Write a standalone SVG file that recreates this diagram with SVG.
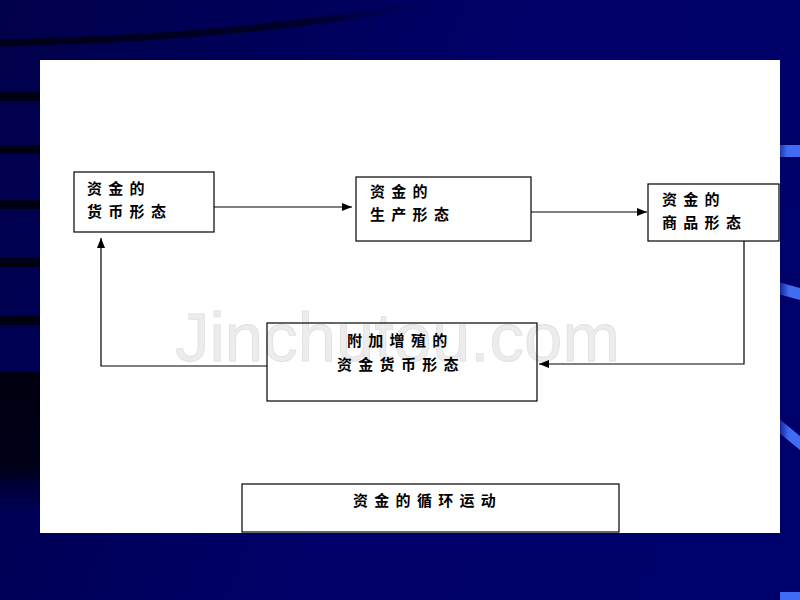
<svg xmlns="http://www.w3.org/2000/svg" width="800" height="600" viewBox="0 0 800 600">
<defs>
<style>
.box{fill:none;stroke:#000;stroke-width:1.2}
.t{font-family:"Noto Sans CJK SC","Noto Sans CJK JP",sans-serif;font-size:15px;font-weight:700;letter-spacing:6.3px;fill:#000}
.c{fill:none;stroke:#000;stroke-width:1.2}
.stripeL{fill:#000014}
</style>
<linearGradient id="bg" x1="0" y1="0" x2="1" y2="0.3">
<stop offset="0" stop-color="#00004a"/>
<stop offset="0.6" stop-color="#000068"/>
<stop offset="1" stop-color="#00006a"/>
</linearGradient>
<linearGradient id="blk" x1="0" y1="0" x2="0" y2="1">
<stop offset="0" stop-color="#000010"/>
<stop offset="0.6" stop-color="#000018"/>
<stop offset="1" stop-color="#000060" stop-opacity="0"/>
</linearGradient>
<linearGradient id="band" x1="0" y1="0" x2="1" y2="0">
<stop offset="0" stop-color="#000010"/>
<stop offset="0.7" stop-color="#000020"/>
<stop offset="1" stop-color="#000040" stop-opacity="0"/>
</linearGradient>
<linearGradient id="fadeR" x1="0" y1="0" x2="1" y2="0">
<stop offset="0" stop-color="#3f6cf2" stop-opacity="0.2"/>
<stop offset="0.5" stop-color="#3f6cf2"/>
<stop offset="1" stop-color="#3f6cf2"/>
</linearGradient>
<marker id="ah" viewBox="0 0 10 10" refX="10" refY="5" markerWidth="10" markerHeight="10" markerUnits="userSpaceOnUse" orient="auto">
<path d="M0,1 L10,5 L0,9 Z" fill="#000"/>
</marker>
</defs>

<g id="background">
<rect x="0" y="0" width="800" height="600" fill="url(#bg)"/>
<path d="M0,43 C120,40 260,33 430,4" fill="none" stroke="url(#band)" stroke-width="7" opacity="0.85"/>
<rect class="stripeL" x="0" y="92" width="40" height="9"/>
<rect class="stripeL" x="0" y="145" width="40" height="9"/>
<rect class="stripeL" x="0" y="200" width="40" height="9"/>
<rect class="stripeL" x="0" y="258" width="40" height="9"/>
<rect class="stripeL" x="0" y="316" width="40" height="9"/>
<rect x="0" y="372" width="40" height="160" fill="url(#blk)"/>
<rect x="775" y="145" width="25" height="12" fill="url(#fadeR)"/>
<path d="M778,282 L800,288 L800,300 L778,294 Z" fill="url(#fadeR)"/>
<path d="M778,418 L800,436 L800,450 L778,432 Z" fill="url(#fadeR)"/>
<rect x="780" y="592" width="20" height="8" fill="#3f6cf2"/>
<rect x="40" y="60" width="740" height="473" fill="#fff"/>
<text x="175" y="361" font-family="Liberation Sans, Arial, sans-serif" font-size="69" fill="#ececec" stroke="#e0e0e0" stroke-width="0.8">Jinchutou.com</text>
</g>

<g id="connectors">
<path class="c" d="M214,207 H352" marker-end="url(#ah)"/>
<path class="c" d="M531,212 H647" marker-end="url(#ah)"/>
<path class="c" d="M744,241 V364 H539" marker-end="url(#ah)"/>
<path class="c" d="M267,366 H101 V238" marker-end="url(#ah)"/>
</g>

<g id="node-money">
<rect class="box" x="74" y="172" width="140" height="60"/>
<text class="t" x="87" y="194">资金的</text>
<text class="t" x="87" y="217">货币形态</text>
</g>

<g id="node-production">
<rect class="box" x="356" y="177" width="175" height="64"/>
<text class="t" x="370" y="197">资金的</text>
<text class="t" x="370" y="220">生产形态</text>
</g>

<g id="node-commodity">
<rect class="box" x="648" y="184" width="131" height="57"/>
<text class="t" x="662" y="205">资金的</text>
<text class="t" x="662" y="228">商品形态</text>
</g>

<g id="node-increment">
<rect class="box" x="267" y="323" width="270" height="78"/>
<text class="t" x="347" y="346">附加增殖的</text>
<text class="t" x="337" y="370">资金货币形态</text>
</g>

<g id="node-title">
<rect class="box" x="242" y="484" width="377" height="48"/>
<text class="t" x="353" y="506">资金的循环运动</text>
</g>
</svg>
